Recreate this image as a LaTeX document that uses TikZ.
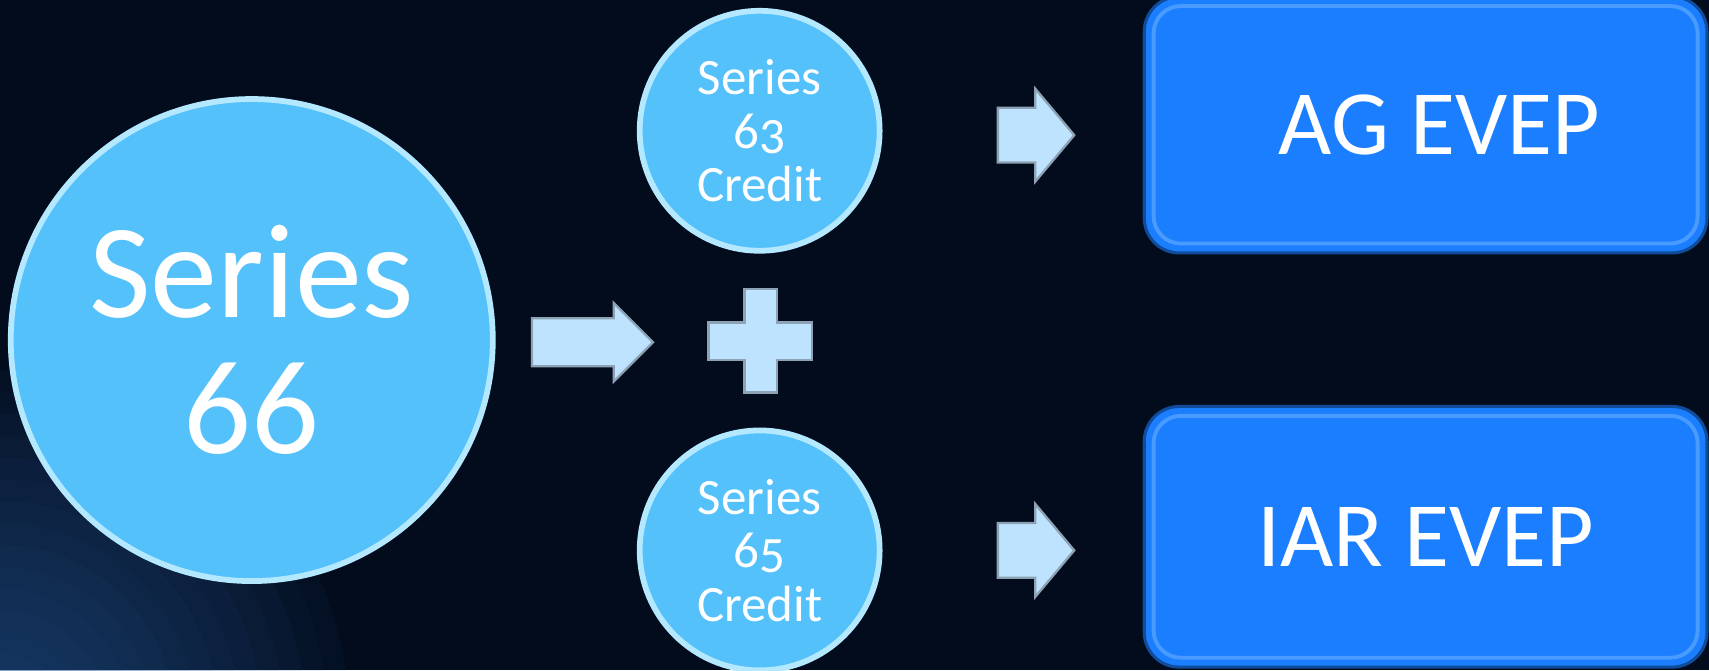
\documentclass[tikz,border=0pt]{standalone}
\usepackage{fontspec}
\setmainfont{Carlito}
\usetikzlibrary{shapes.arrows}

\definecolor{bgnavy}{HTML}{020C1D}
\definecolor{bgglow}{HTML}{2A5A96}
\definecolor{ballblue}{HTML}{55C1FB}
\definecolor{ballrim}{HTML}{B4E8FF}
\definecolor{boxblue}{HTML}{1B7EFF}
\definecolor{boxrim}{HTML}{4A9BFF}
\definecolor{arrowfill}{HTML}{BEE3FF}
\definecolor{arrowedge}{HTML}{8DA3B5}

% old-style figure that drops below the baseline
\newcommand{\lowfig}[1]{\raisebox{-0.1em}{#1}}

\begin{document}
\begin{tikzpicture}[
    x=0.01cm, y=-0.01cm,
    ball/.style={circle, fill=ballblue, draw=ballrim, line width=1.5pt,
      text=white, align=center, inner sep=0pt},
    credit ball/.style={ball, minimum size=2.2cm,
      font=\fontsize{13.3}{13.9}\selectfont},
    outcome/.style={rectangle, rounded corners=0.32cm, fill=boxblue,
      draw=boxblue!60!black, line width=0.8pt, text=white,
      minimum width=5.16cm, font=\fontsize{24}{28}\selectfont},
    inner rim/.style={draw=boxrim, line width=1pt, rounded corners=0.25cm},
    block arrow/.style={single arrow, fill=arrowfill, draw=arrowedge,
      line width=0.6pt, inner xsep=0pt, anchor=tail},
    every node/.style={text=white}
    ]

% background
\fill[bgnavy] (0,0) rectangle (1568,615);
\begin{scope}
  \clip (0,0) rectangle (1568,615);
  \foreach \r in {0.4,0.6,...,3.4}
    \fill[bgglow, opacity=0.06] (0,660) circle (\r cm);
\end{scope}
\useasboundingbox (0,0) rectangle (1568,615);

% circles
\node[ball, minimum size=4.42cm, font=\fontsize{35}{35.6}\selectfont]
    (series66) at (231,312) {Series\\66};
\node[credit ball] (series63) at (697,120) {Series\\6\lowfig{3}\\Credit};
\node[credit ball] (series65) at (697,505) {Series\\6\lowfig{5}\\Credit};

% plus sign
\draw[fill=arrowfill, draw=arrowedge, line width=0.6pt]
    (683,265) -- (713,265) -- (713,296) -- (745,296) -- (745,330)
    -- (713,330) -- (713,360) -- (683,360) -- (683,330) -- (650,330)
    -- (650,296) -- (683,296) -- cycle;

% block arrows
\node[block arrow, minimum height=1.11cm, inner ysep=0.21cm,
    single arrow head extend=0.14cm] (midarrow) at (487,314) {};
\node[block arrow, minimum height=0.70cm, inner ysep=0.24cm,
    single arrow head extend=0.175cm, single arrow tip angle=100]
    (toparrow) at (914.5,124) {};
\node[block arrow, minimum height=0.70cm, inner ysep=0.24cm,
    single arrow head extend=0.175cm, single arrow tip angle=100]
    (botarrow) at (914.5,505) {};

% outcome boxes
\node[outcome, minimum height=2.35cm] (agevep) at (1308,114.5)
    {\hspace*{0.25cm}AG EVEP};
\node[outcome, minimum height=2.39cm] (iarevep) at (1308,492.5)
    {IAR EVEP};
\draw[inner rim] ([xshift=0.1cm,yshift=-0.1cm]agevep.north west)
    rectangle ([xshift=-0.1cm,yshift=0.1cm]agevep.south east);
\draw[inner rim] ([xshift=0.1cm,yshift=-0.1cm]iarevep.north west)
    rectangle ([xshift=-0.1cm,yshift=0.1cm]iarevep.south east);

\end{tikzpicture}
\end{document}
